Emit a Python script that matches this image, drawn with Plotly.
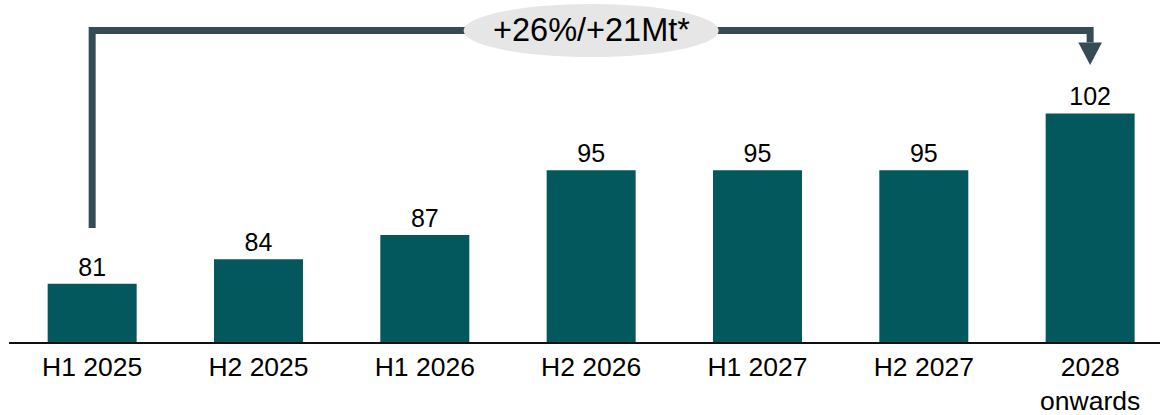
import plotly.graph_objects as go

categories = ["H1 2025", "H2 2025", "H1 2026", "H2 2026", "H1 2027", "H2 2027", "2028<br>onwards"]
values = [81, 84, 87, 95, 95, 95, 102]
value_labels = ["81", "84", "87", "95", "95", "95", "102"]
callout_text = "+26%/+21Mt*"

BAR = "#02585c"
ARROW = "#354c56"
FONT = "Liberation Sans, Arial, sans-serif"

fig = go.Figure()
fig.add_trace(go.Bar(
    x=categories, y=values, text=value_labels,
    textposition="outside", cliponaxis=False,
    textfont=dict(size=25, color="#000000", family=FONT),
    marker=dict(color=BAR, line=dict(width=0)),
    hoverinfo="skip",
))

# connector from first bar to last bar
y_low, y_top, y_head = 0.333, 0.911, 0.876
fig.add_shape(type="path", xref="x", yref="paper",
              path=f"M 0,{y_low} L 0,{y_top} L 6,{y_top} L 6,{y_head}",
              line=dict(color=ARROW, width=7))
fig.add_shape(type="path", xref="x", yref="paper",
              path=f"M 5.929,{y_head} L 6.071,{y_head} L 6,0.810 Z",
              fillcolor=ARROW, line=dict(color=ARROW, width=0))
fig.add_shape(type="circle", xref="x", yref="paper",
              x0=2.233, x1=3.767, y0=0.833, y1=0.988,
              fillcolor="#e6e6e6", line=dict(width=0))
fig.add_annotation(x=3, y=0.911, xref="x", yref="paper", text=callout_text,
                   xanchor="center", yanchor="middle",
                   showarrow=False, font=dict(size=32.5, color="#000000", family=FONT))

fig.update_layout(
    width=1160, height=415,
    margin=dict(l=9, r=0, t=0, b=73),
    paper_bgcolor="white", plot_bgcolor="white",
    showlegend=False, bargap=0.465,
    font=dict(family=FONT, color="#000000"),
)
fig.update_xaxes(range=[-0.5, 6.42], showline=True, linecolor="#111111", linewidth=2,
                 ticks="", showgrid=False, zeroline=False,
                 tickfont=dict(size=26.5, color="#000000", family=FONT))
fig.update_yaxes(range=[73.8, 116.0], visible=False, showgrid=False, zeroline=False)

fig.write_html("out.html")
